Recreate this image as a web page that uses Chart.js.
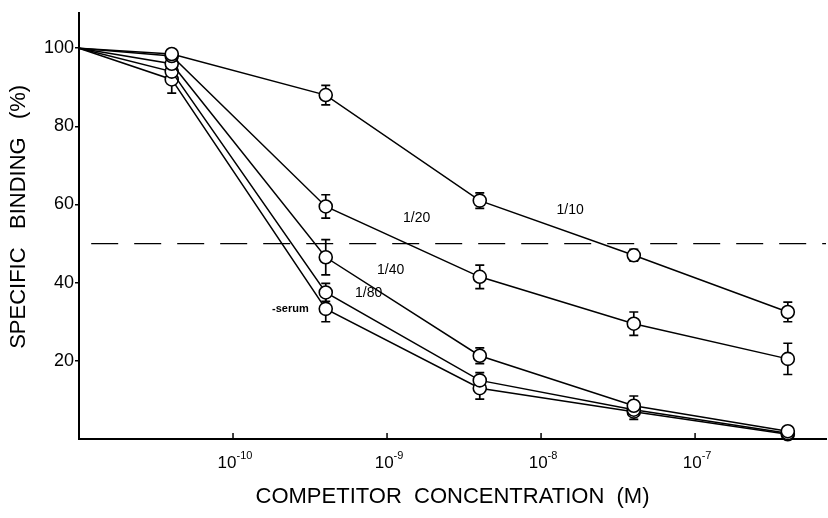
<!DOCTYPE html>
<html>
<head>
<meta charset="utf-8">
<script src="https://cdn.jsdelivr.net/npm/chart.js@4/dist/chart.umd.min.js"></script>
<style>
html, body { margin: 0; padding: 0; background: #fff; }
#wrap { width: 828px; height: 518px; }
</style>
</head>
<body>
<div id="wrap"><canvas id="fig"></canvas></div>
<script>
// competitor concentration (M) for every curve
var conc = [1e-11, 4e-11, 4e-10, 4e-9, 4e-8, 4e-7];

// specific binding (%) and error bar half-lengths, one pair per serum dilution
var dil10 = [100, 98.5, 88, 61, 47, 32.5];
var dil10_err = [0, 0, 2.5, 2, 1.5, 2.5];
var dil20 = [100, 98, 59.5, 41.5, 29.5, 20.5];
var dil20_err = [0, 0, 3, 3, 3, 4];
var dil40 = [100, 96, 46.5, 21.3, 8.5, 2];
var dil40_err = [0, 0, 4.5, 2, 2.5, 0];
var dil80 = [100, 94, 37.5, 15, 7.5, 1.5];
var dil80_err = [0, 0, 2.3, 2, 0, 0];
var noSerum = [100, 92, 33.3, 13, 7, 1.2];
var noSerum_err = [0, 3.5, 3.3, 2.8, 2, 0];

var seriesNames = ["1/10", "1/20", "1/40", "1/80", "-serum"];

// 50% reference line
var halfLevel = 50;
var halfLineX = [1.2e-11, 7.08e-7];

// tick labels
var xTicks = [1e-10, 1e-9, 1e-8, 1e-7];
var xTickExp = ["-10", "-9", "-8", "-7"];
var yTicks = [20, 40, 60, 80, 100];

// where the curve names are written (data coords)
var nameSpots = [
  { x: 1.26e-8, y: 58.5, font: '14px', align: 'left' },
  { x: 1.27e-9, y: 56.5, font: '14px', align: 'left' },
  { x: 8.6e-10, y: 43.3, font: '14px', align: 'left' },
  { x: 6.2e-10, y: 37.4, font: '14px', align: 'left' },
  { x: 3.1e-10, y: 33.3, font: 'bold 11px', align: 'right' }
];

var allValues = [dil10, dil20, dil40, dil80, noSerum];
var allErrors = [dil10_err, dil20_err, dil40_err, dil80_err, noSerum_err];

var datasets = [];
for (var i = 0; i < allValues.length; i++) {
  datasets.push({
    label: seriesNames[i],
    data: conc.map(function (c, j) { return { x: c, y: allValues[i][j] }; }),
    borderColor: '#000',
    borderWidth: 1.5,
    backgroundColor: '#fff',
    pointBackgroundColor: '#fff',
    pointBorderColor: '#000',
    pointBorderWidth: 1.6,
    pointRadius: conc.map(function (c, j) { return j === 0 ? 0 : 6.5; }),
    tension: 0,
    clip: false,
    errors: allErrors[i]
  });
}
datasets.push({
  label: 'half',
  data: halfLineX.map(function (c) { return { x: c, y: halfLevel }; }),
  borderColor: '#000',
  borderWidth: 1.4,
  borderDash: [27, 16],
  pointRadius: 0,
  tension: 0
});

var errorBars = {
  id: 'errorBars',
  beforeDatasetsDraw: function (chart) {
    var ctx = chart.ctx, xs = chart.scales.x, ys = chart.scales.y;
    ctx.save();
    ctx.strokeStyle = '#000';
    ctx.lineWidth = 1.7;
    chart.data.datasets.forEach(function (ds) {
      if (!ds.errors) return;
      ds.data.forEach(function (p, j) {
        var e = ds.errors[j];
        if (!e) return;
        var px = xs.getPixelForValue(p.x);
        var top = ys.getPixelForValue(p.y + e);
        var bot = ys.getPixelForValue(p.y - e);
        ctx.beginPath();
        ctx.moveTo(px, top); ctx.lineTo(px, bot);
        ctx.moveTo(px - 4.5, top); ctx.lineTo(px + 4.5, top);
        ctx.moveTo(px - 4.5, bot); ctx.lineTo(px + 4.5, bot);
        ctx.stroke();
      });
    });
    ctx.restore();
  }
};

var decorations = {
  id: 'decorations',
  afterDraw: function (chart) {
    var ctx = chart.ctx, xs = chart.scales.x, ys = chart.scales.y;
    var bottom = chart.chartArea.bottom;
    var fam = '"Liberation Sans", Arial, sans-serif';
    ctx.save();
    ctx.fillStyle = '#000';
    ctx.strokeStyle = '#000';
    ctx.lineWidth = 1.5;
    // inward ticks and 10^n labels on x
    xTicks.forEach(function (v, k) {
      var px = xs.getPixelForValue(v);
      ctx.beginPath();
      ctx.moveTo(px, bottom); ctx.lineTo(px, bottom - 6);
      ctx.stroke();
      ctx.font = '17px ' + fam;
      ctx.textBaseline = 'alphabetic';
      var w1 = ctx.measureText('10').width;
      ctx.font = '11px ' + fam;
      var w2 = ctx.measureText(xTickExp[k]).width;
      var x0 = px - (w1 + w2) / 2 + 2;
      ctx.font = '17px ' + fam;
      ctx.textAlign = 'left';
      ctx.fillText('10', x0, bottom + 29);
      ctx.font = '11px ' + fam;
      ctx.fillText(xTickExp[k], x0 + w1, bottom + 20);
    });
    // curve names
    nameSpots.forEach(function (s, k) {
      ctx.font = s.font + ' ' + fam;
      ctx.textAlign = s.align;
      ctx.textBaseline = 'middle';
      ctx.fillText(seriesNames[k], xs.getPixelForValue(s.x), ys.getPixelForValue(s.y));
    });
    ctx.restore();
  }
};

new Chart(document.getElementById('fig').getContext('2d'), {
  type: 'line',
  data: { datasets: datasets },
  plugins: [errorBars, decorations],
  options: {
    responsive: true,
    maintainAspectRatio: false,
    animation: false,
    layout: { autoPadding: false, padding: { top: 13, right: 2, bottom: 0, left: 0 } },
    plugins: { legend: { display: false }, tooltip: { enabled: false } },
    scales: {
      x: {
        type: 'logarithmic',
        min: 1e-11,
        max: 7.08e-7,
        afterFit: function (scale) { scale.height = 79; },
        grid: { display: false },
        border: { display: true, color: '#000', width: 2 },
        ticks: { display: false },
        title: {
          display: true,
          text: 'COMPETITOR  CONCENTRATION  (M)',
          color: '#000',
          font: { family: '"Liberation Sans", Arial, sans-serif', size: 22 },
          padding: { top: 0, bottom: 8 }
        }
      },
      y: {
        min: 0,
        max: 109,
        afterBuildTicks: function (scale) {
          scale.ticks = yTicks.map(function (v) { return { value: v }; });
        },
        afterFit: function (scale) { scale.width = 79; },
        grid: { display: true, drawOnChartArea: false, drawTicks: true, tickLength: 4, color: '#000', lineWidth: 1.5 },
        border: { display: true, color: '#000', width: 2 },
        ticks: {
          color: '#000',
          padding: 1,
          font: { family: '"Liberation Sans", Arial, sans-serif', size: 18 }
        },
        title: {
          display: true,
          text: '   SPECIFIC   BINDING   (%)',
          color: '#000',
          font: { family: '"Liberation Sans", Arial, sans-serif', size: 22 },
          padding: { top: 6, bottom: 0 }
        }
      }
    }
  }
});
</script>
</body>
</html>
